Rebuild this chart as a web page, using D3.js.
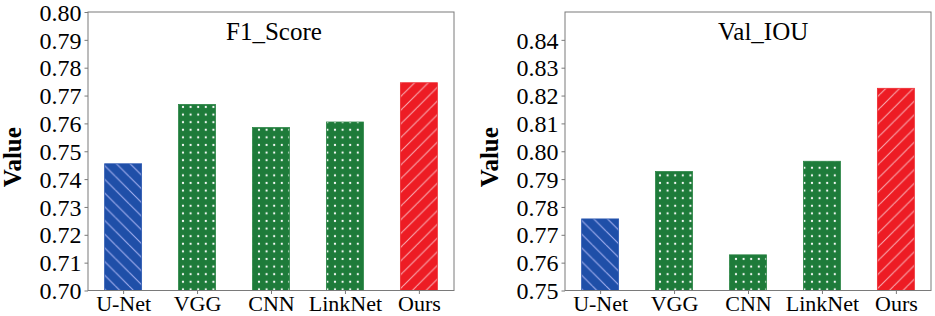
<!DOCTYPE html>
<html>
<head>
<meta charset="utf-8">
<script src="https://cdn.jsdelivr.net/npm/d3@7"></script>
<style>
  body { margin: 0; background: #fff; }
  svg text { font-family: "Liberation Serif", "Times New Roman", serif; fill: #000; }
</style>
</head>
<body>
<div id="chart"></div>
<script>
// data
var models = ["U-Net", "VGG", "CNN", "LinkNet", "Ours"];
var f1Values = [0.7455, 0.7668, 0.7585, 0.7605, 0.7746];
var iouValues = [0.7757, 0.7927, 0.7628, 0.7964, 0.8226];
var f1Ticks = [0.70, 0.71, 0.72, 0.73, 0.74, 0.75, 0.76, 0.77, 0.78, 0.79, 0.80];
var iouTicks = [0.75, 0.76, 0.77, 0.78, 0.79, 0.80, 0.81, 0.82, 0.83, 0.84];
var barStyles = ["blue", "green", "green", "green", "red"];

var svg = d3.select("#chart").append("svg")
    .attr("width", 935)
    .attr("height", 316);

// hatch patterns
var defs = svg.append("defs");

function lineHatch(id, fill, stroke, dir) {
    var s = 13.7;
    var p = defs.append("pattern")
        .attr("id", id)
        .attr("patternUnits", "userSpaceOnUse")
        .attr("width", s).attr("height", s);
    p.append("rect").attr("width", s).attr("height", s).attr("fill", fill);
    var d = dir == "back"
        ? "M0,0 L" + s + "," + s + " M" + (-s) + ",0 L0," + s + " M0," + (-s) + " L" + s + ",0"
        : "M0," + s + " L" + s + ",0 M" + (-s) + "," + s + " L0,0 M0," + (2 * s) + " L" + (2 * s) + ",0";
    p.append("path").attr("d", d)
        .attr("stroke", stroke).attr("stroke-width", 1.1);
}
lineHatch("hatch-blue", "#1f4fa8", "#a3b0f0", "back");
lineHatch("hatch-red", "#ed1c24", "#f8aab0", "fwd");

var dots = defs.append("pattern")
    .attr("id", "hatch-green")
    .attr("patternUnits", "userSpaceOnUse")
    .attr("width", 7.6).attr("height", 7.6);
dots.append("rect").attr("width", 7.6).attr("height", 7.6).attr("fill", "#1e7b3a");
dots.append("circle").attr("cx", 3.8).attr("cy", 3.8).attr("r", 1.1).attr("fill", "#fff");

var fills = { blue: "url(#hatch-blue)", green: "url(#hatch-green)", red: "url(#hatch-red)" };
var edges = { blue: "#2a57b0", green: "#2a8444", red: "#ee2a30" };
var serif = "'Liberation Serif', 'Times New Roman', serif";

function drawPanel(opt) {
    var g = svg.append("g").attr("transform", "translate(" + opt.left + "," + opt.top + ")");
    var w = opt.width, h = opt.height;

    var x = d3.scaleLinear().domain([-0.475, 4.475]).range([0, w]);
    var y = d3.scaleLinear().domain(opt.domain).range([h, 0]);

    g.selectAll(".bar")
        .data(opt.values)
        .enter().append("rect")
        .attr("class", "bar")
        .attr("x", function (d, i) { return x(i - 0.25); })
        .attr("width", x(0.25) - x(-0.25))
        .attr("y", function (d) { return y(d); })
        .attr("height", function (d) { return h - y(d); })
        .attr("fill", function (d, i) { return fills[barStyles[i]]; })
        .attr("stroke", function (d, i) { return edges[barStyles[i]]; })
        .attr("stroke-width", 0.8);

    // frame
    g.append("rect")
        .attr("width", w).attr("height", h)
        .attr("fill", "none")
        .attr("stroke", "#7a7a7a")
        .attr("stroke-width", 1);

    var yAxis = g.append("g")
        .call(d3.axisLeft(y).tickValues(opt.ticks).tickFormat(d3.format(".2f")).tickSize(3.5).tickPadding(3));
    yAxis.attr("font-family", serif);
    yAxis.select(".domain").remove();
    yAxis.selectAll("line").attr("stroke", "#7a7a7a");
    yAxis.selectAll("text").style("font-size", "24px").style("font-family", serif).attr("dy", "0.34em");

    var xAxis = g.append("g")
        .attr("transform", "translate(0," + h + ")")
        .call(d3.axisBottom(x).tickValues(d3.range(models.length))
            .tickFormat(function (i) { return models[i]; }).tickSize(3.5).tickPadding(1));
    xAxis.attr("font-family", serif);
    xAxis.select(".domain").remove();
    xAxis.selectAll("line").attr("stroke", "#7a7a7a");
    xAxis.selectAll("text").style("font-size", "22px").style("font-family", serif);

    g.append("text")
        .attr("x", opt.titleX)
        .attr("y", 28)
        .style("font-size", "25px")
        .text(opt.title);

    g.append("text")
        .attr("transform", "translate(-67," + (h / 2 + 6) + ") rotate(-90)")
        .attr("text-anchor", "middle")
        .style("font-size", "25px")
        .style("font-weight", "bold")
        .text("Value");
}

drawPanel({ left: 88, top: 12, width: 366, height: 278.5, domain: [0.70, 0.80],
    values: f1Values, ticks: f1Ticks, title: "F1_Score", titleX: 138 });
drawPanel({ left: 565, top: 12, width: 366, height: 278.5, domain: [0.75, 0.85],
    values: iouValues, ticks: iouTicks, title: "Val_IOU", titleX: 153 });
</script>
</body>
</html>
